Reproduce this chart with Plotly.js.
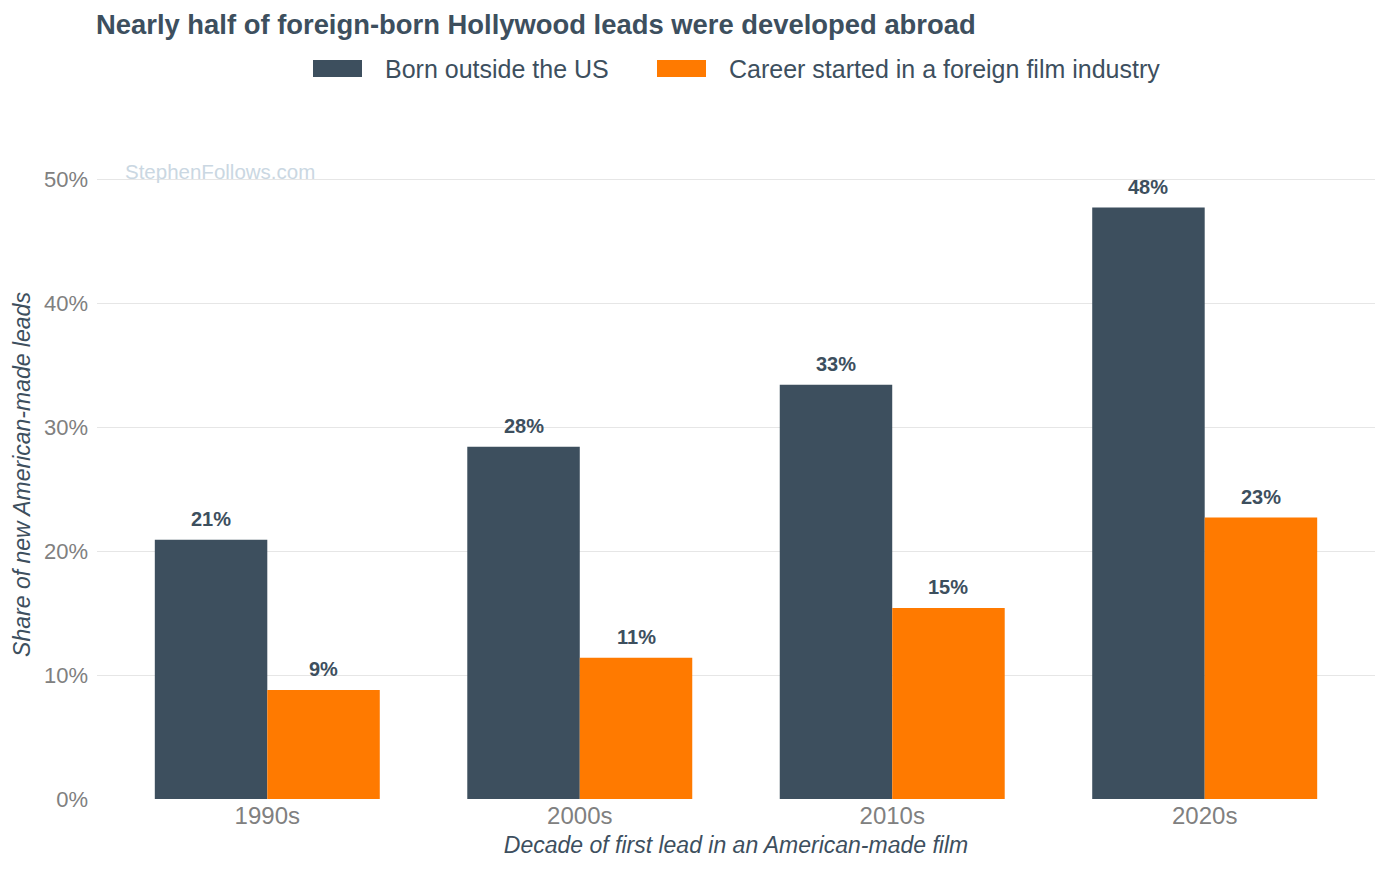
<!DOCTYPE html>
<html>
<head>
<meta charset="utf-8">
<script src="https://cdn.plot.ly/plotly-3.0.1.min.js"></script>
<style>
  html, body { margin: 0; padding: 0; background: #ffffff; }
  #chart { width: 1390px; height: 873px; }
</style>
</head>
<body>
<div id="chart"></div>
<script>
let decades = ["1990s", "2000s", "2010s", "2020s"]
let bornOutside = [0.209, 0.284, 0.334, 0.477]
let foreignCareer = [0.088, 0.114, 0.154, 0.227]
let seriesNames = ["Born outside the US", "Career started in a foreign film industry"]

let darkColor = "#3d4f5e"
let orangeColor = "#ff7a00"
let fontFamily = "Liberation Sans, Arial, sans-serif"

// plot area in pixels, used to place the hand made legend
let plotLeft = 97, plotRight = 1375, plotTop = 150, plotBottom = 799
let plotW = plotRight - plotLeft, plotH = plotBottom - plotTop
function px2x(px) { return (px - plotLeft) / plotW }
function px2y(py) { return (plotBottom - py) / plotH }

let bargap = 0.28
let halfBar = (1 - bargap) / 4

function pctLabel(v) {
    return Math.round(v * 100) + "%"
}

let bornTrace = {
    x: decades,
    y: bornOutside,
    type: "bar",
    name: seriesNames[0],
    marker: { color: darkColor },
    showlegend: false,
    hoverinfo: "skip"
}

let careerTrace = {
    x: decades,
    y: foreignCareer,
    type: "bar",
    name: seriesNames[1],
    marker: { color: orangeColor },
    showlegend: false,
    hoverinfo: "skip"
}

// value labels above each bar
let annotations = []
decades.forEach((d, i) => {
    [[bornOutside, -halfBar], [foreignCareer, halfBar]].forEach(([vals, off]) => {
        annotations.push({
            x: i + off,
            y: vals[i],
            xref: "x",
            yref: "y",
            text: "<b>" + pctLabel(vals[i]) + "</b>",
            showarrow: false,
            yanchor: "middle",
            yshift: 21,
            font: { size: 20, color: darkColor }
        })
    })
})

annotations.push({
    text: "StephenFollows.com",
    xref: "paper",
    yref: "paper",
    x: px2x(123),
    xanchor: "left",
    y: px2y(171),
    yanchor: "middle",
    showarrow: false,
    font: { size: 20.5, color: "#cad7e2" }
})

// legend: swatch + label, matching the original's wide swatches
let legendItems = [
    { name: seriesNames[0], color: darkColor, swatch: 313, label: 383 },
    { name: seriesNames[1], color: orangeColor, swatch: 657, label: 727 }
]
let shapes = []
legendItems.forEach(item => {
    shapes.push({
        type: "rect",
        xref: "paper",
        yref: "paper",
        x0: px2x(item.swatch),
        x1: px2x(item.swatch + 49),
        y0: px2y(77),
        y1: px2y(60),
        fillcolor: item.color,
        line: { width: 0 }
    })
    annotations.push({
        text: item.name,
        xref: "paper",
        yref: "paper",
        x: px2x(item.label),
        xanchor: "left",
        y: px2y(69),
        yanchor: "middle",
        showarrow: false,
        font: { size: 25, color: darkColor }
    })
})

let layout = {
    width: 1390,
    height: 873,
    margin: { l: plotLeft, r: 1390 - plotRight, t: plotTop, b: 873 - plotBottom },
    paper_bgcolor: "#ffffff",
    plot_bgcolor: "#ffffff",
    font: { family: fontFamily, color: darkColor },
    barmode: "group",
    bargap: bargap,
    bargroupgap: 0,
    showlegend: false,
    title: {
        text: "<b>Nearly half of foreign-born Hollywood leads were developed abroad</b>",
        font: { size: 27.4, color: darkColor },
        x: 96 / 1390,
        xanchor: "left",
        xref: "container",
        y: 1 - 24 / 873,
        yanchor: "middle",
        yref: "container"
    },
    xaxis: {
        range: [-0.545, 3.545],
        showgrid: false,
        zeroline: false,
        showline: false,
        ticks: "",
        tickfont: { size: 24, color: "#808080" },
        title: {
            text: "<i>Decade of first lead in an American-made film</i>",
            font: { size: 23, color: darkColor },
            standoff: 8
        }
    },
    yaxis: {
        range: [0, 0.5 * plotH / 620],
        tickvals: [0, 0.1, 0.2, 0.3, 0.4, 0.5],
        tickformat: ".0%",
        showgrid: true,
        gridcolor: "#e6e6e6",
        gridwidth: 1,
        zeroline: false,
        showline: false,
        ticks: "",
        ticklabelstandoff: 8,
        tickfont: { size: 22, color: "#808080" },
        title: {
            text: "<i>Share of new American-made leads</i>",
            font: { size: 23, color: darkColor },
            standoff: 6
        }
    },
    annotations: annotations,
    shapes: shapes
}

Plotly.newPlot("chart", [bornTrace, careerTrace], layout, { displayModeBar: false, staticPlot: true })
</script>
</body>
</html>
